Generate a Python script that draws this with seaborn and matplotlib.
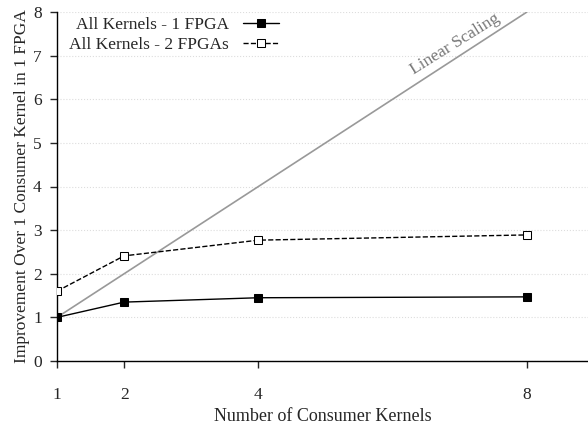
import numpy as np
import pandas as pd
import matplotlib
matplotlib.use("Agg")
import matplotlib.pyplot as plt
import seaborn as sns

kernels = [1, 2, 4, 8]
one_fpga = [1.0, 1.35, 1.45, 1.47]
two_fpgas = [1.60, 2.41, 2.77, 2.89]
linear = [1, 8]

sns.set_style("white")
plt.rcParams["font.family"] = ["Liberation Serif", "DejaVu Serif"]
plt.rcParams["font.size"] = 12.5

fig = plt.figure(figsize=(5.88, 4.29), dpi=100)
ax = fig.add_axes([57 / 588, 1 - 361 / 429, 1 - 57 / 588, (361 - 12) / 429])

# linear scaling reference
sns.lineplot(x=linear, y=linear, color="#999999", lw=1.2, ax=ax, zorder=1)
ax.text(7.0, 7.1, "Linear Scaling", color="#777777", fontsize=12.5,
        rotation=32, rotation_mode="anchor", ha="center", va="bottom")

sns.lineplot(x=kernels, y=one_fpga, color="black", lw=1, marker="s",
             markersize=6, markerfacecolor="black", markeredgecolor="black",
             label="All Kernels - 1 FPGA", ax=ax, zorder=3)
sns.lineplot(x=kernels, y=two_fpgas, color="black", lw=1, linestyle="--",
             marker="s", markersize=6, markerfacecolor="white",
             markeredgecolor="black", label="All Kernels - 2 FPGAs", ax=ax, zorder=3)

ax.set_xlim(1, 8.91)
ax.set_ylim(0, 8)
ax.set_xticks(kernels)
ax.set_yticks(range(0, 9))
ax.yaxis.grid(True, color="#dddddd", linestyle=":", lw=0.8)
ax.set_axisbelow(True)

for s in ["top", "right"]:
    ax.spines[s].set_visible(False)
for s in ["left", "bottom"]:
    ax.spines[s].set_color("black")
    ax.spines[s].set_linewidth(1)

ax.tick_params(axis="x", direction="out", length=5, width=1, pad=14, bottom=True)
ax.tick_params(axis="y", direction="out", length=5, width=1, pad=6, left=True)

ax.set_xlabel("Number of Consumer Kernels", fontsize=13, labelpad=3)
ax.set_ylabel("Improvement Over 1 Consumer Kernel in 1 FPGA", fontsize=12.5, labelpad=2)

ax.legend(loc="upper left", bbox_to_anchor=(0.0, 1.02), frameon=False,
          markerfirst=False, handlelength=2.1, borderaxespad=0.3,
          labelspacing=0.2)

fig.savefig("out.png", dpi=100)
